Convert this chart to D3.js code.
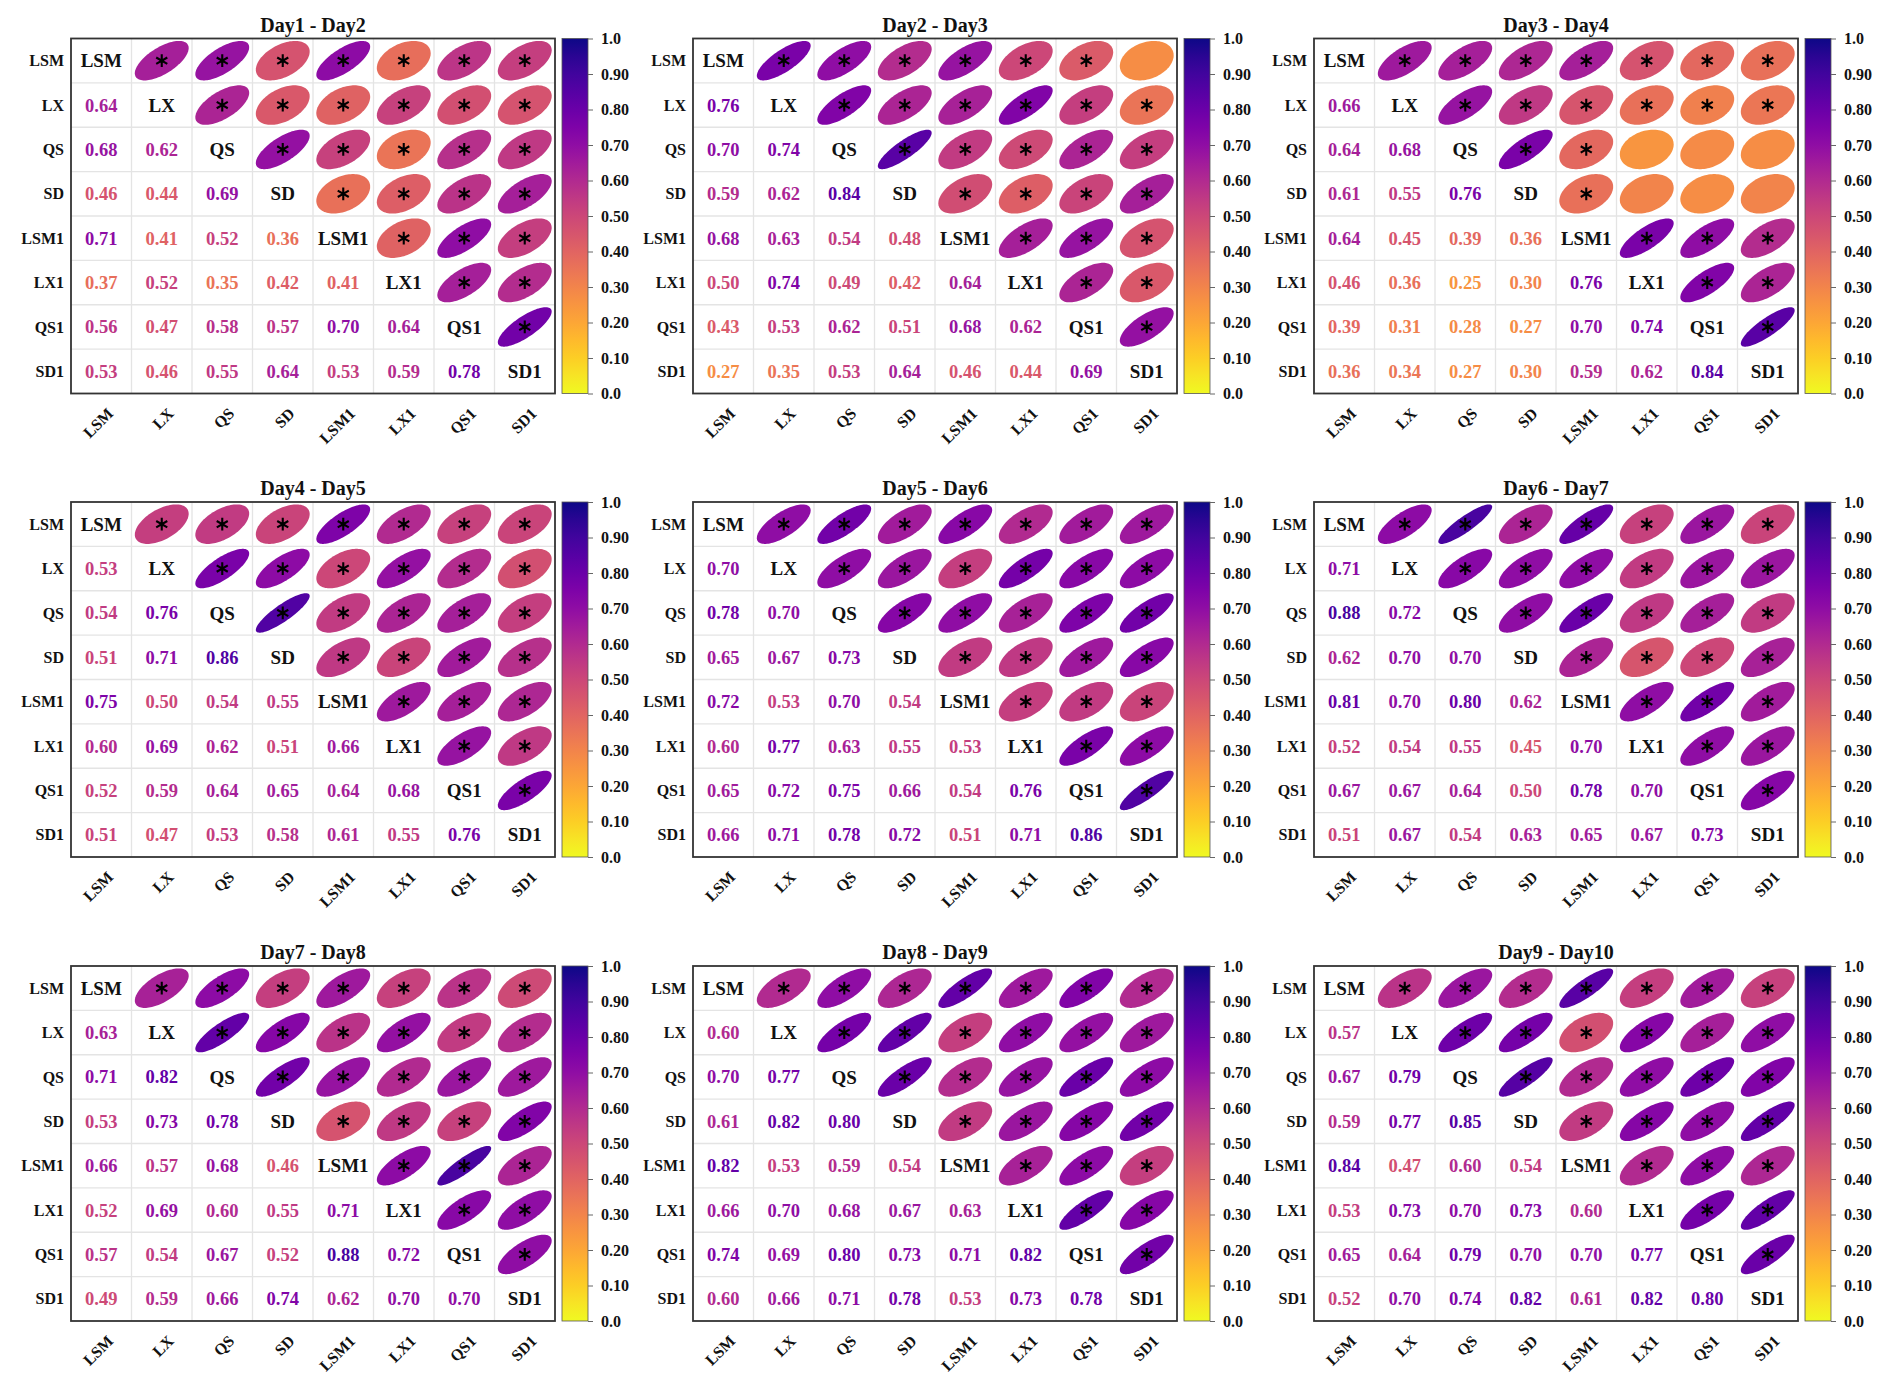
<!DOCTYPE html>
<html><head><meta charset="utf-8">
<script src="https://cdn.jsdelivr.net/npm/d3@7"></script>
<style>body{margin:0;background:#fff;} svg{display:block}</style>
</head><body>
<svg id="chart" width="1892" height="1393"></svg>
<script>
// ---------------- DATA ----------------
const variables = ["LSM", "LX", "QS", "SD", "LSM1", "LX1", "QS1", "SD1"];
const panelTitles = ["Day1 - Day2", "Day2 - Day3", "Day3 - Day4",
                     "Day4 - Day5", "Day5 - Day6", "Day6 - Day7",
                     "Day7 - Day8", "Day8 - Day9", "Day9 - Day10"];
// lower triangle, row i (LX..SD1) holds correlations with columns LSM..(i-1)
const day1_day2 = [[0.64],[0.68,0.62],[0.46,0.44,0.69],[0.71,0.41,0.52,0.36],
  [0.37,0.52,0.35,0.42,0.41],[0.56,0.47,0.58,0.57,0.70,0.64],[0.53,0.46,0.55,0.64,0.53,0.59,0.78]];
const day2_day3 = [[0.76],[0.70,0.74],[0.59,0.62,0.84],[0.68,0.63,0.54,0.48],
  [0.50,0.74,0.49,0.42,0.64],[0.43,0.53,0.62,0.51,0.68,0.62],[0.27,0.35,0.53,0.64,0.46,0.44,0.69]];
const day3_day4 = [[0.66],[0.64,0.68],[0.61,0.55,0.76],[0.64,0.45,0.39,0.36],
  [0.46,0.36,0.25,0.30,0.76],[0.39,0.31,0.28,0.27,0.70,0.74],[0.36,0.34,0.27,0.30,0.59,0.62,0.84]];
const day4_day5 = [[0.53],[0.54,0.76],[0.51,0.71,0.86],[0.75,0.50,0.54,0.55],
  [0.60,0.69,0.62,0.51,0.66],[0.52,0.59,0.64,0.65,0.64,0.68],[0.51,0.47,0.53,0.58,0.61,0.55,0.76]];
const day5_day6 = [[0.70],[0.78,0.70],[0.65,0.67,0.73],[0.72,0.53,0.70,0.54],
  [0.60,0.77,0.63,0.55,0.53],[0.65,0.72,0.75,0.66,0.54,0.76],[0.66,0.71,0.78,0.72,0.51,0.71,0.86]];
const day6_day7 = [[0.71],[0.88,0.72],[0.62,0.70,0.70],[0.81,0.70,0.80,0.62],
  [0.52,0.54,0.55,0.45,0.70],[0.67,0.67,0.64,0.50,0.78,0.70],[0.51,0.67,0.54,0.63,0.65,0.67,0.73]];
const day7_day8 = [[0.63],[0.71,0.82],[0.53,0.73,0.78],[0.66,0.57,0.68,0.46],
  [0.52,0.69,0.60,0.55,0.71],[0.57,0.54,0.67,0.52,0.88,0.72],[0.49,0.59,0.66,0.74,0.62,0.70,0.70]];
const day8_day9 = [[0.60],[0.70,0.77],[0.61,0.82,0.80],[0.82,0.53,0.59,0.54],
  [0.66,0.70,0.68,0.67,0.63],[0.74,0.69,0.80,0.73,0.71,0.82],[0.60,0.66,0.71,0.78,0.53,0.73,0.78]];
const day9_day10 = [[0.57],[0.67,0.79],[0.59,0.77,0.85],[0.84,0.47,0.60,0.54],
  [0.53,0.73,0.70,0.73,0.60],[0.65,0.64,0.79,0.70,0.70,0.77],[0.52,0.70,0.74,0.82,0.61,0.82,0.80]];
const panelData = [day1_day2, day2_day3, day3_day4, day4_day5, day5_day6,
                   day6_day7, day7_day8, day8_day9, day9_day10];
const colorbarTicks = [0, 0.1, 0.2, 0.3, 0.4, 0.5, 0.6, 0.7, 0.8, 0.9, 1.0];
const colorbarTickLabels = ["0.0","0.10","0.20","0.30","0.40","0.50","0.60","0.70","0.80","0.90","1.0"];
const sigThreshold = 0.30; // correlations above this are marked with *

// ---------------- LAYOUT ----------------
const colLefts = [71, 693, 1314];
const rowTops = [38.5, 502, 966];
const W = 484, H = 355;
const FONT = "'Liberation Serif','Times New Roman',serif";

const svg = d3.select("#chart");
const color = d3.scaleSequential(t => d3.interpolatePlasma(1 - t)).domain([0, 1]);

// gradient for colorbars
const defs = svg.append("defs");
const grad = defs.append("linearGradient").attr("id", "cbGrad")
  .attr("x1", 0).attr("y1", 1).attr("x2", 0).attr("y2", 0);
d3.range(0, 1.0001, 0.05).forEach(t => {
  grad.append("stop").attr("offset", t).attr("stop-color", color(t));
});

function fullMatrix(lower) {
  const n = variables.length;
  const m = d3.range(n).map(() => new Array(n).fill(1));
  lower.forEach((row, k) => {
    const i = k + 1;
    row.forEach((v, j) => { m[i][j] = v; m[j][i] = v; });
  });
  return m;
}

panelData.forEach((lower, p) => {
  const m = fullMatrix(lower);
  const g = svg.append("g")
    .attr("transform", `translate(${colLefts[p % 3]},${rowTops[Math.floor(p / 3)]})`);
  const x = d3.scaleBand().domain(variables).range([0, W]);
  const y = d3.scaleBand().domain(variables).range([0, H]);
  const bw = x.bandwidth(), bh = y.bandwidth();

  // grid
  const grid = g.append("g");
  d3.range(1, variables.length).forEach(k => {
    grid.append("line").attr("x1", k * bw).attr("x2", k * bw).attr("y1", 0).attr("y2", H)
      .attr("stroke", "#e4e4e4").attr("stroke-width", 1.3);
    grid.append("line").attr("y1", k * bh).attr("y2", k * bh).attr("x1", 0).attr("x2", W)
      .attr("stroke", "#e4e4e4").attr("stroke-width", 1.3);
  });

  const line = d3.line().curve(d3.curveLinearClosed);
  const a = bw / 2 * 0.89, b = bh / 2 * 0.89;

  variables.forEach((rv, i) => {
    variables.forEach((cv, j) => {
      const cx = x(cv) + bw / 2, cy = y(rv) + bh / 2;
      const r = m[i][j];
      if (i === j) {
        g.append("text").attr("x", cx).attr("y", cy).attr("dy", "0.35em")
          .attr("text-anchor", "middle").attr("font-family", FONT)
          .attr("font-weight", "bold").attr("font-size", 19).attr("fill", "#111")
          .text(rv);
      } else if (i > j) {
        g.append("text").attr("x", cx).attr("y", cy).attr("dy", "0.35em")
          .attr("text-anchor", "middle").attr("font-family", FONT)
          .attr("font-weight", "bold").attr("font-size", 18.5).attr("fill", color(r))
          .text(r.toFixed(2));
      } else {
        const d = Math.acos(r);
        const pts = d3.range(0, 100).map(k => {
          const t = k / 100 * 2 * Math.PI;
          return [cx + a * Math.cos(t + d / 2), cy - b * Math.cos(t - d / 2)];
        });
        g.append("path").attr("d", line(pts)).attr("fill", color(r));
        if (r > sigThreshold) {
          g.append("path").attr("d", d3.symbol().type(d3.symbolAsterisk).size(115)())
            .attr("transform", `translate(${cx},${cy})`)
            .attr("stroke", "#000").attr("stroke-width", 2.1).attr("fill", "none");
        }
      }
    });
  });

  // frame
  g.append("rect").attr("x", 0).attr("y", 0).attr("width", W).attr("height", H)
    .attr("fill", "none").attr("stroke", "#333").attr("stroke-width", 1.8);

  // title
  g.append("text").attr("x", W / 2).attr("y", -7).attr("text-anchor", "middle")
    .attr("font-family", FONT).attr("font-weight", "bold").attr("font-size", 20)
    .attr("fill", "#111").text(panelTitles[p]);

  // row labels
  variables.forEach(v => {
    g.append("text").attr("x", -7).attr("y", y(v) + bh / 2).attr("dy", "0.35em")
      .attr("text-anchor", "end").attr("font-family", FONT).attr("font-weight", "bold")
      .attr("font-size", 16).attr("fill", "#111").text(v);
  });
  // column labels
  variables.forEach(v => {
    const px = x(v) + bw / 2 + 13, py = H + 21;
    g.append("text").attr("x", px).attr("y", py)
      .attr("transform", `rotate(-45,${px},${py})`)
      .attr("text-anchor", "end").attr("font-family", FONT).attr("font-weight", "bold")
      .attr("font-size", 16).attr("fill", "#111").text(v);
  });

  // colorbar
  const cbX = W + 7, cbW = 26;
  g.append("rect").attr("x", cbX).attr("y", 0).attr("width", cbW).attr("height", H)
    .attr("fill", "url(#cbGrad)").attr("stroke", "#555").attr("stroke-width", 0.8);
  const cScale = d3.scaleLinear().domain([0, 1]).range([H, 0]);
  const ax = g.append("g").attr("transform", `translate(${cbX + cbW},0)`)
    .call(d3.axisRight(cScale).tickValues(colorbarTicks)
      .tickFormat((d, i) => colorbarTickLabels[i]).tickSize(5).tickPadding(8));
  ax.select(".domain").remove();
  ax.selectAll(".tick line").attr("stroke", "#666");
  ax.selectAll(".tick text").attr("font-family", FONT).attr("font-weight", "bold")
    .attr("font-size", 16).attr("fill", "#111");
});
</script>
</body></html>
